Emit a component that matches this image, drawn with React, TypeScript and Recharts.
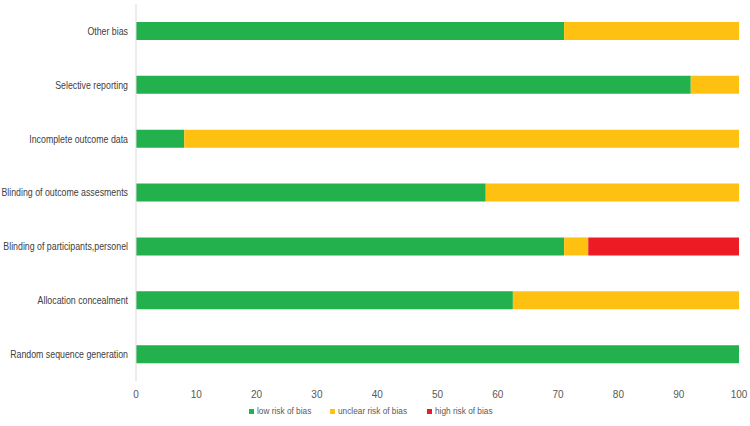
import React from "react";
import { BarChart, Bar, XAxis, YAxis, Legend } from "recharts";

const categories = [
  "Other bias",
  "Selective reporting",
  "Incomplete outcome data",
  "Blinding of outcome assesments",
  "Blinding of participants,personel",
  "Allocation concealment",
  "Random sequence generation",
];
const lowRisk = [71, 92, 8, 58, 71, 62.5, 100];
const unclearRisk = [29, 8, 92, 42, 4, 37.5, 0];
const highRisk = [0, 0, 0, 0, 25, 0, 0];
const xTicks = [0, 10, 20, 30, 40, 50, 60, 70, 80, 90, 100];
const seriesNames = ["low risk of bias", "unclear risk of bias", "high risk of bias"];
const seriesColors = ["#22b14c", "#fec011", "#ed1c24"];

const data = categories.map((name, i) => ({
  name,
  low: lowRisk[i],
  unclear: unclearRisk[i],
  high: highRisk[i],
}));

const FONT = "'Liberation Sans', Arial, sans-serif";
const TEXT = "#595959";

const CategoryTick = (props: any) => {
  const { x, y, payload } = props;
  return (
    <g transform={`translate(${x},${y})`}>
      <text
        x={0}
        y={0}
        dy="0.35em"
        textAnchor="end"
        transform="scale(0.8,1)"
        fill="#404040"
        fontSize={11}
        fontFamily={FONT}
      >
        {payload.value}
      </text>
    </g>
  );
};

const LegendContent = () => {
  return (
    <div
      style={{
        display: "flex",
        justifyContent: "center",
        alignItems: "center",
        height: 20,
        fontFamily: FONT,
        fontSize: 9,
        color: TEXT,
        paddingLeft: 22,
      }}
    >
      {seriesNames.map((name, i) => (
        <div key={name} style={{ display: "flex", alignItems: "center", marginRight: 14 }}>
          <span
            style={{
              display: "inline-block",
              width: 5,
              height: 5,
              background: seriesColors[i],
              marginRight: 3,
            }}
          />
          <span style={{ display: "inline-block", transform: "scaleX(0.92)", transformOrigin: "left center" }}>{name}</span>
        </div>
      ))}
    </div>
  );
};

export default function App() {
  return (
    <div style={{ position: "absolute", left: 0, top: 0, width: 750, height: 426, background: "#fff" }}>
      <BarChart
        width={750}
        height={426}
        data={data}
        layout="vertical"
        margin={{ top: 4, right: 11, bottom: 5, left: 0 }}
        barSize={18}
      >
        <XAxis
          type="number"
          domain={[0, 100]}
          ticks={xTicks}
          axisLine={false}
          tickLine={false}
          height={20}
          tickMargin={4}
          tick={{ fill: TEXT, fontSize: 10, fontFamily: FONT }}
          interval={0}
        />
        <YAxis
          type="category"
          dataKey="name"
          width={136}
          axisLine={{ stroke: "#d9d9d9" }}
          tickLine={false}
          tickMargin={2}
          tick={<CategoryTick />}
          interval={0}
        />
        <Legend verticalAlign="bottom" height={20} content={<LegendContent />} />
        <Bar dataKey="low" name={seriesNames[0]} stackId="a" fill={seriesColors[0]} isAnimationActive={false} />
        <Bar dataKey="unclear" name={seriesNames[1]} stackId="a" fill={seriesColors[1]} isAnimationActive={false} />
        <Bar dataKey="high" name={seriesNames[2]} stackId="a" fill={seriesColors[2]} isAnimationActive={false} />
      </BarChart>
    </div>
  );
}
